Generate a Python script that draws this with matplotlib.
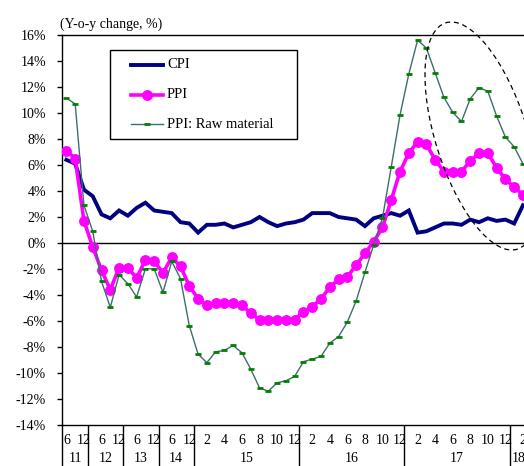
import matplotlib
matplotlib.use("Agg")
import matplotlib.pyplot as plt
from matplotlib.patches import Ellipse, Rectangle
from matplotlib.lines import Line2D
import matplotlib.transforms as mtransforms

plt.rcParams['font.family'] = ['Liberation Serif', 'DejaVu Serif']

# ---- data ----
years = [11]*3 + [12]*4 + [13]*4 + [14]*4 + [15]*12 + [16]*12 + [17]*12 + [18]*2
months = [6, 9, 12] + [3, 6, 9, 12]*3 + list(range(1, 13))*3 + [1, 2]

cpi = [6.4, 6.1, 4.1, 3.6, 2.2, 1.9, 2.5, 2.1, 2.7, 3.1, 2.5, 2.4, 2.3, 1.6, 1.5,
       0.8, 1.4, 1.4, 1.5, 1.2, 1.4, 1.6, 2.0, 1.6, 1.3, 1.5, 1.6,
       1.8, 2.3, 2.3, 2.3, 2.0, 1.9, 1.8, 1.3, 1.9, 2.1, 2.3, 2.1,
       2.5, 0.8, 0.9, 1.2, 1.5, 1.5, 1.4, 1.8, 1.6, 1.9, 1.7, 1.8,
       1.5, 2.9]
ppi = [7.1, 6.5, 1.7, -0.3, -2.1, -3.6, -1.9, -1.9, -2.7, -1.3, -1.4, -2.3, -1.1, -1.8, -3.3,
       -4.3, -4.8, -4.6, -4.6, -4.6, -4.8, -5.4, -5.9, -5.9, -5.9, -5.9, -5.9,
       -5.3, -4.9, -4.3, -3.4, -2.8, -2.6, -1.7, -0.8, 0.1, 1.2, 3.3, 5.5,
       6.9, 7.8, 7.6, 6.4, 5.5, 5.5, 5.5, 6.3, 6.9, 6.9, 5.8, 4.9,
       4.3, 3.7]
ppi_raw = [11.15, 10.7, 2.9, 0.9, -2.95, -4.95, -2.44, -3.13, -4.15, -1.98, -1.98, -3.8, -1.41, -2.75, -6.36,
           -8.55, -9.2, -8.37, -8.26, -7.88, -8.45, -9.7, -11.15, -11.4, -10.75, -10.6, -10.26,
           -9.13, -8.93, -8.72, -7.7, -7.2, -6.08, -4.46, -2.26, -0.15, 1.92, 5.85, 9.85,
           13.0, 15.6, 15.0, 13.1, 11.2, 10.05, 9.35, 11.1, 11.95, 11.67, 9.77, 8.15,
           7.4, 6.1]
yticks = list(range(-14, 17, 2))
ytick_labels = [f"{v}%" for v in yticks]
series_names = ["CPI", "PPI", "PPI: Raw material"]

x = list(range(len(cpi)))

# ---- figure ----
fig = plt.figure(figsize=(5.24, 4.66), dpi=100)
ax = fig.add_axes([62/524, 41/466, 482.9/524, 390/466])

l1, = ax.plot(x, cpi, color='#000080', lw=2.8, solid_joinstyle='miter', zorder=3)
l2, = ax.plot(x, ppi, color='#FF00FF', lw=2.6, marker='o', ms=6.8, zorder=4)
l3, = ax.plot(x, ppi_raw, color='#3C6E6E', lw=1.0, marker='_', ms=4.5,
              mec='#008000', mew=2.0, zorder=5)

ax.axhline(0, color='black', lw=1.0, zorder=2)

ax.set_xlim(-0.5, 54.5)
ax.set_ylim(-14, 16)
ax.set_yticks(yticks)
ax.set_yticklabels(ytick_labels)
ax.tick_params(axis='y', direction='out', length=3.6, width=1, pad=8, labelsize=10, colors='black')

# month labels
mpos, mlab = [], []
for i, (yy, mm) in enumerate(zip(years, months)):
    if yy <= 14:
        if mm in (6, 12):
            mpos.append(i); mlab.append(str(mm))
    else:
        if mm % 2 == 0:
            mpos.append(i); mlab.append(str(mm))
ax.set_xticks(mpos)
ax.set_xticklabels(mlab)
ax.tick_params(axis='x', which='major', length=0, pad=6.5, labelsize=10)

# year separators as long minor ticks
bounds = [-0.5] + [i + 0.5 for i in range(len(years) - 1) if years[i] != years[i + 1]]
ax.set_xticks(bounds, minor=True)
ax.tick_params(axis='x', which='minor', length=32, width=1.0, direction='out', color='black')

# year labels
trans = mtransforms.blended_transform_factory(ax.transData, ax.transAxes)
uniq = []
for yy in years:
    if yy not in uniq:
        uniq.append(yy)
for yy in uniq:
    idx = [i for i, v in enumerate(years) if v == yy]
    c = (idx[0] + idx[-1]) / 2
    ax.text(c, (425 - 462.5) / 390, str(yy), transform=trans, ha='center', va='baseline', fontsize=10)

for s in ['left', 'top', 'bottom']:
    ax.spines[s].set_color('black')
    ax.spines[s].set_linewidth(1.0)
ax.spines['right'].set_visible(False)

ax.text(-0.004, 1.028, "(Y-o-y change, %)", transform=ax.transAxes, ha='left', va='center', fontsize=10)

# legend (manual box)
W, H = 482.9, 390.0
def axx(px):
    return (px - 62) / W
def axy(py):
    return (425 - py) / H
ax.add_patch(Rectangle((axx(110), axy(139)), axx(297) - axx(110), axy(50) - axy(139),
                       transform=ax.transAxes, fill=True, facecolor='white',
                       edgecolor='black', lw=1.0, zorder=6))
rows = [65, 95, 124]
for line, name, py in zip([l1, l2, l3], series_names, rows):
    hx = [axx(131), axx(163)]
    hy = [axy(py), axy(py)]
    ax.add_line(Line2D(hx, hy, transform=ax.transAxes, color=line.get_color(),
                       lw=line.get_linewidth(), zorder=7))
    if line.get_marker() not in (None, 'None', ''):
        ax.add_line(Line2D([sum(hx)/2], [hy[0]], transform=ax.transAxes,
                           marker=line.get_marker(), ms=line.get_markersize(),
                           mec=line.get_markeredgecolor(), mfc=line.get_markerfacecolor(),
                           mew=line.get_markeredgewidth(), ls='none', zorder=8))
    ax.text(axx(167), axy(py), name, transform=ax.transAxes, ha='left', va='center',
            fontsize=10.5, zorder=8)

# dashed ellipse annotation
ell = Ellipse((4.815, 3.30), width=2.374, height=0.918, angle=-72.46,
              transform=fig.dpi_scale_trans, fill=False, edgecolor='black',
              lw=0.9, linestyle=(0, (4, 3)), zorder=10)
fig.patches.append(ell)

fig.savefig("out.png", dpi=100)
